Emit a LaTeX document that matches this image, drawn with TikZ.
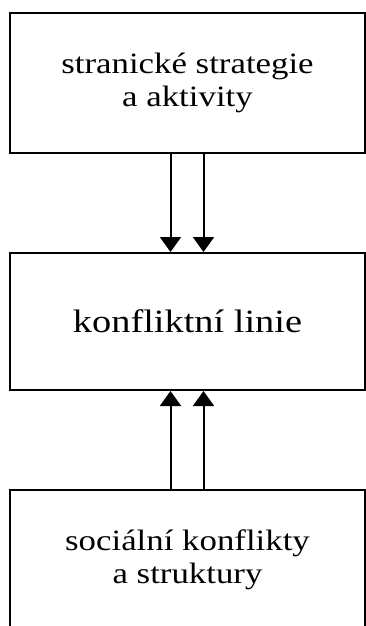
\documentclass[tikz,border=0pt]{standalone}
\usepackage{fontspec}
\setmainfont{Liberation Serif}[FakeStretch=1.18]
\usetikzlibrary{arrows.meta}

\begin{document}
\begin{tikzpicture}[x=1pt,y=-1pt,
  box/.style={draw, line width=2pt, minimum width=355pt, align=center,
    font=\fontsize{29.5}{33}\selectfont},
  arr/.style={-{Triangle[width=21pt,length=15pt]}, line width=2pt}]
\useasboundingbox (0,0) rectangle (366,626);

% boxes
\node[box, minimum height=140pt] (strat) at (187.5,83) {stranické strategie\\a aktivity};
\node[box, minimum height=137pt, font=\fontsize{32.5}{36}\selectfont] (linie) at (187.5,321.5) {konfliktní linie};
\node[box, minimum height=140pt] (social) at (187.5,560) {sociální konflikty\\a struktury};

% arrows
\draw[arr] ([xshift=-17pt]strat.south) -- ([xshift=-17pt]linie.north);
\draw[arr] ([xshift=16pt]strat.south) -- ([xshift=16pt]linie.north);
\draw[arr] ([xshift=-17pt]social.north) -- ([xshift=-17pt]linie.south);
\draw[arr] ([xshift=16pt]social.north) -- ([xshift=16pt]linie.south);
\end{tikzpicture}
\end{document}
